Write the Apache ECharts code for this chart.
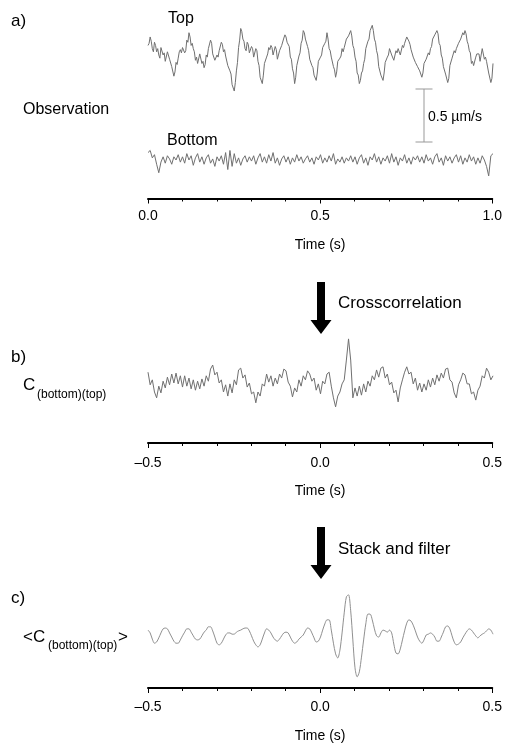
<!DOCTYPE html>
<html>
<head>
<meta charset="utf-8">
<script src="https://cdn.jsdelivr.net/npm/echarts@6/dist/echarts.min.js"></script>
<style>
  html, body { margin: 0; padding: 0; background: #fff; }
  #chart { width: 505px; height: 745px; }
</style>
</head>
<body>
<div id="chart"></div>
<script>
// sample steps (s)
const dt = 1 / 160;
const dtTop = 1 / 320;

// a) observed vertical velocity (um/s), 0 .. 1 s
const topTrace = [
  0.11,0.13,0.19,0.15,0.08,0.05,0.14,0.11,0.05,0.08,0.02,-0.01,0.09,0.10,0.02,0.04,-0.04,-0.05,0.05,0.06,
  -0.02,-0.01,-0.09,-0.10,-0.18,-0.14,-0.05,-0.07,-0.01,0.05,0.07,0.04,0.09,0.10,0.04,0.06,0.16,0.14,0.23,0.19,
  0.11,0.13,0.08,0.05,-0.03,0.00,-0.06,-0.07,0.03,0.04,-0.06,-0.04,-0.10,-0.07,0.02,0.00,0.08,0.09,0.16,0.13,
  0.03,0.04,-0.03,-0.04,0.02,0.00,0.06,0.07,0.14,0.12,0.05,0.07,0.01,0.00,-0.08,-0.07,-0.13,-0.16,-0.26,-0.25,
  -0.32,-0.24,-0.13,-0.05,0.09,0.16,0.27,0.24,0.17,0.15,0.08,0.06,0.14,0.12,0.04,0.03,0.10,0.08,0.00,-0.01,
  0.08,0.06,-0.04,-0.08,-0.19,-0.18,-0.25,-0.17,-0.06,-0.07,0.00,0.03,0.09,0.07,0.11,0.09,0.02,0.01,0.10,0.07,
  -0.02,-0.03,0.06,0.05,0.11,0.10,0.18,0.21,0.19,0.14,0.15,0.10,0.00,-0.02,-0.11,-0.15,-0.25,-0.19,-0.08,-0.07,
  0.01,0.04,0.13,0.16,0.25,0.23,0.17,0.16,0.10,0.06,-0.02,-0.01,-0.08,-0.10,-0.17,-0.16,-0.22,-0.15,-0.04,-0.05,
  0.00,0.02,0.09,0.08,0.13,0.15,0.23,0.17,0.08,0.06,0.00,-0.01,-0.09,-0.12,-0.19,-0.14,-0.04,-0.05,-0.01,0.01,
  0.08,0.05,0.09,0.10,0.17,0.16,0.20,0.19,0.25,0.20,0.11,0.08,0.00,-0.04,-0.15,-0.17,-0.25,-0.22,-0.15,-0.13,
  -0.06,-0.02,0.08,0.07,0.15,0.17,0.25,0.24,0.30,0.25,0.17,0.14,0.06,0.02,-0.09,-0.10,-0.17,-0.16,-0.22,-0.15,
  -0.05,-0.06,0.00,0.02,0.08,0.09,0.02,0.03,-0.03,-0.04,0.06,0.04,0.08,0.09,0.02,0.03,0.11,0.09,0.13,0.14,
  0.19,0.20,0.15,0.12,0.07,0.06,0.00,0.01,-0.05,-0.04,-0.09,-0.08,-0.13,-0.12,-0.19,-0.15,-0.06,-0.07,-0.02,-0.03,
  0.04,0.02,0.08,0.10,0.17,0.16,0.21,0.20,0.25,0.22,0.13,0.11,0.02,-0.01,-0.09,-0.08,-0.16,-0.17,-0.24,-0.20,
  -0.08,-0.07,-0.01,0.00,0.06,0.04,0.08,0.07,0.13,0.12,0.17,0.16,0.23,0.21,0.25,0.22,0.15,0.12,0.06,0.04,
  -0.06,-0.04,-0.08,-0.09,0.00,0.03,0.02,0.03,-0.04,-0.05,0.08,0.07,-0.02,0.00,-0.04,-0.05,-0.15,-0.16,-0.24,-0.20,
  -0.06
];
const bottomTrace = [
  0.07,0.09,0.02,0.05,-0.04,-0.12,-0.02,0.03,-0.03,0.04,
  0.01,-0.04,0.03,0.00,0.05,-0.02,0.03,-0.03,0.06,0.00,
  0.04,-0.05,0.02,0.06,-0.02,0.03,-0.04,0.02,0.05,-0.03,
  0.01,-0.06,0.03,-0.01,0.04,-0.04,0.07,-0.09,0.09,-0.06,
  0.06,-0.03,0.02,-0.05,0.01,0.04,-0.02,0.03,-0.01,0.04,
  -0.04,0.02,0.06,-0.02,0.03,-0.03,0.05,-0.01,0.07,-0.03,
  0.02,-0.05,0.01,0.04,-0.02,0.03,-0.04,0.02,-0.02,0.05,
  -0.01,0.03,-0.03,0.01,0.04,-0.02,0.02,-0.04,0.03,0.00,
  0.05,-0.03,0.02,-0.02,0.04,-0.01,0.06,-0.04,0.01,-0.02,
  0.03,-0.03,0.02,-0.01,0.04,-0.02,0.03,-0.04,0.02,0.05,
  -0.03,0.02,-0.05,0.03,0.00,0.06,-0.02,0.03,-0.04,0.02,
  -0.01,0.04,-0.03,0.06,-0.02,0.03,-0.05,0.02,-0.01,0.05,
  -0.03,0.02,-0.04,0.03,0.00,0.04,-0.02,0.03,-0.03,0.05,
  -0.01,0.02,-0.04,0.03,0.06,-0.02,0.02,-0.05,0.04,-0.01,
  0.03,-0.03,0.02,0.05,-0.02,0.04,-0.04,0.02,-0.02,0.05,
  -0.01,0.03,-0.04,0.02,-0.03,0.04,0.00,-0.06,-0.15,0.04,
  0.06
];

// b) single crosscorrelation (normalised), -0.5 .. 0.5 s
const crossCorr = [
  0.24,-0.04,0.07,-0.20,-0.33,-0.07,-0.22,0.04,-0.11,0.13,
  -0.04,0.20,0.00,0.22,-0.02,0.16,-0.09,0.16,-0.07,0.11,
  -0.13,0.07,-0.16,0.04,-0.13,0.09,-0.07,0.16,0.04,0.31,
  0.40,0.18,0.24,0.00,0.07,-0.20,-0.04,-0.29,-0.02,-0.22,
  0.07,-0.04,0.29,0.33,0.11,0.18,-0.09,0.00,-0.24,-0.20,
  -0.44,-0.20,-0.29,-0.02,-0.07,0.20,0.02,0.16,-0.07,0.11,
  -0.02,0.20,0.11,0.31,0.27,0.02,-0.07,-0.31,-0.11,-0.20,
  0.07,-0.07,0.16,0.07,0.27,0.20,0.04,0.11,-0.16,-0.02,
  -0.24,0.04,-0.02,0.20,0.24,-0.07,-0.33,-0.53,-0.29,-0.20,
  -0.02,0.07,0.51,0.98,0.51,-0.33,-0.11,-0.29,-0.07,-0.27,
  -0.02,-0.20,0.04,-0.07,0.16,0.07,0.29,0.13,0.33,0.36,
  0.11,0.20,-0.04,0.02,-0.22,-0.16,-0.42,-0.11,0.07,0.24,
  0.36,0.20,0.24,-0.02,0.11,-0.16,0.00,-0.20,-0.02,-0.16,
  0.07,-0.09,0.11,-0.04,0.18,0.04,0.22,0.11,0.31,0.33,
  0.07,0.02,-0.22,-0.33,-0.04,0.07,0.22,0.18,-0.02,-0.02,
  -0.24,-0.20,-0.38,-0.16,-0.07,0.16,0.11,0.33,0.24,0.07,
  0.16
];

// c) stacked and filtered crosscorrelation (normalised)
const stackedCorr = [
  0.12,0.05,-0.10,-0.20,-0.17,-0.07,0.05,0.15,0.17,0.15,
  0.05,-0.05,-0.15,-0.20,-0.20,-0.12,-0.02,0.07,0.15,0.15,
  0.07,-0.02,-0.10,-0.12,-0.10,-0.02,0.07,0.12,0.20,0.20,
  0.10,-0.05,-0.20,-0.24,-0.20,-0.10,0.00,0.05,0.05,0.02,
  0.02,0.07,0.10,0.12,0.15,0.17,0.17,0.10,-0.02,-0.15,
  -0.24,-0.29,-0.24,-0.10,0.05,0.15,0.12,0.05,-0.05,-0.12,
  -0.15,-0.10,-0.02,0.05,0.07,0.05,-0.05,-0.15,-0.20,-0.17,
  -0.10,-0.05,0.00,0.10,0.17,0.15,0.05,-0.07,-0.17,-0.15,
  -0.05,0.12,0.27,0.37,0.37,0.12,-0.20,-0.46,-0.56,-0.37,
  0.05,0.54,0.93,0.98,0.59,-0.12,-0.80,-1.02,-0.90,-0.54,
  -0.12,0.27,0.51,0.51,0.37,0.15,-0.02,-0.05,0.05,0.12,
  0.10,0.07,0.12,0.05,-0.22,-0.44,-0.46,-0.34,-0.12,0.10,
  0.29,0.37,0.34,0.24,0.10,-0.05,-0.15,-0.20,-0.12,0.00,
  0.02,0.05,0.02,-0.05,-0.15,-0.15,-0.05,0.07,0.20,0.22,
  0.15,-0.02,-0.17,-0.24,-0.22,-0.17,-0.07,0.02,0.10,0.15,
  0.12,0.05,-0.02,-0.07,-0.02,0.02,0.05,0.10,0.15,0.12,
  0.02
];

// scale bar: 0.5 um/s drawn at t = 0.8 s
const scaleBar = [[0.8, 0], [0.8, 0.5]];

const FONT = "'Liberation Sans', Arial, Helvetica, sans-serif";

function toPairs(arr, t0, step) {
  return arr.map((v, i) => [t0 + i * step, v]);
}

function txt(text, x, y, size) {
  return {
    type: 'text', x: x, y: y,
    style: { text: text, fontSize: size, fontFamily: FONT, fill: '#000', align: 'left', verticalAlign: 'middle' }
  };
}

function arrow(yTop, yHead, yTip) {
  return {
    type: 'polygon',
    shape: { points: [[317, yTop], [325, yTop], [325, yHead], [331.5, yHead], [321, yTip], [310.5, yHead], [317, yHead]] },
    style: { fill: '#000' }
  };
}

function hiddenX(grid, min, max) {
  return { gridIndex: grid, type: 'value', min: min, max: max, show: false };
}
function hiddenY(grid, min, max) {
  return { gridIndex: grid, type: 'value', min: min, max: max, show: false };
}
function timeAxis(grid, min, max, margin, nameGap) {
  return {
    gridIndex: grid, type: 'value', min: min, max: max, interval: 0.5,
    position: 'bottom',
    name: 'Time (s)', nameLocation: 'middle', nameGap: nameGap,
    nameTextStyle: { fontSize: 14, color: '#000', fontFamily: FONT },
    axisLine: { show: true, onZero: false, lineStyle: { color: '#000', width: 2 } },
    axisTick: { show: true, length: 5, lineStyle: { color: '#000', width: 1 } },
    minorTick: { show: true, splitNumber: 5, length: 3, lineStyle: { color: '#000', width: 1 } },
    splitLine: { show: false },
    axisLabel: {
      fontSize: 14, color: '#000', fontFamily: FONT, margin: margin,
      formatter: v => v.toFixed(1).replace('-', '\u2013')
    }
  };
}

const chart = echarts.init(document.getElementById('chart'), null, { renderer: 'canvas' });

const option = {
  backgroundColor: '#fff',
  animation: false,
  grid: [
    { left: 148, width: 345, top: 20, height: 79.5 },     // 0 top trace
    { left: 148, width: 345, top: 138.8, height: 42.4 },  // 1 bottom trace
    { left: 148, width: 345, top: 89, height: 53 },       // 2 scale bar
    { left: 148, width: 345, top: 160, height: 38.5 },    // 3 axis a
    { left: 148, width: 345, top: 333.5, height: 81 },    // 4 crosscorrelation
    { left: 148, width: 345, top: 400, height: 43 },      // 5 axis b
    { left: 148, width: 345, top: 589.9, height: 94.3 },  // 6 stacked
    { left: 148, width: 345, top: 650, height: 38 }       // 7 axis c
  ],
  xAxis: [
    hiddenX(0, 0, 1),
    hiddenX(1, 0, 1),
    hiddenX(2, 0, 1),
    timeAxis(3, 0, 1, 11, 40),
    hiddenX(4, -0.5, 0.5),
    timeAxis(5, -0.5, 0.5, 13, 41),
    hiddenX(6, -0.5, 0.5),
    timeAxis(7, -0.5, 0.5, 12, 41)
  ],
  yAxis: [
    hiddenY(0, -0.4, 0.35),
    hiddenY(1, -0.2, 0.2),
    hiddenY(2, 0, 0.5),
    hiddenY(3, 0, 1),
    hiddenY(4, -0.7, 1.1),
    hiddenY(5, 0, 1),
    hiddenY(6, -1.2, 1.1),
    hiddenY(7, 0, 1)
  ],
  series: [
    {
      name: 'Top', type: 'line', xAxisIndex: 0, yAxisIndex: 0,
      data: toPairs(topTrace, 0, dtTop), showSymbol: false,
      lineStyle: { color: '#707070', width: 1 }
    },
    {
      name: 'Bottom', type: 'line', xAxisIndex: 1, yAxisIndex: 1,
      data: toPairs(bottomTrace, 0, dt), showSymbol: false,
      lineStyle: { color: '#707070', width: 1 }
    },
    {
      name: 'scale', type: 'line', xAxisIndex: 2, yAxisIndex: 2,
      data: scaleBar, symbol: 'rect', symbolSize: [17, 1],
      itemStyle: { color: '#999' },
      lineStyle: { color: '#999', width: 1 }
    },
    {
      name: 'C', type: 'line', xAxisIndex: 4, yAxisIndex: 4,
      data: toPairs(crossCorr, -0.5, dt), showSymbol: false,
      lineStyle: { color: '#707070', width: 1 }
    },
    {
      name: '<C>', type: 'line', xAxisIndex: 6, yAxisIndex: 6,
      data: toPairs(stackedCorr, -0.5, dt), showSymbol: false, smooth: 0.3,
      lineStyle: { color: '#909090', width: 1 }
    }
  ],
  graphic: [
    txt('a)', 11, 21, 17),
    txt('Top', 168, 19, 16),
    txt('Observation', 23, 110, 16),
    txt('Bottom', 167, 141, 16),
    txt('0.5 \u00b5m/s', 428, 117, 14),

    arrow(282, 320, 334),
    txt('Crosscorrelation', 338, 303, 17),
    txt('b)', 11, 357, 17),
    txt('C', 23, 385, 17),
    txt('(bottom)(top)', 37, 395, 12),

    arrow(527, 565, 579),
    txt('Stack and filter', 338, 549, 17),
    txt('c)', 11, 598, 17),
    txt('<C', 23, 637, 17),
    txt('(bottom)(top)', 48, 646, 12),
    txt('>', 118, 637, 17)
  ]
};

chart.setOption(option);
</script>
</body>
</html>
